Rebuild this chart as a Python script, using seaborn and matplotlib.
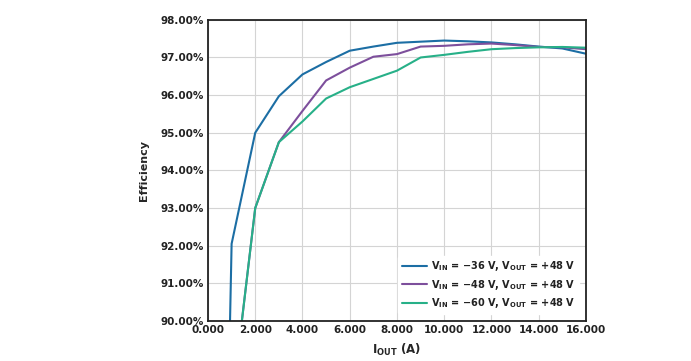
import numpy as np
import pandas as pd
import matplotlib
matplotlib.use("Agg")
import matplotlib.pyplot as plt
import seaborn as sns
from matplotlib.ticker import FuncFormatter

# Efficiency (%) vs output current (A)
iout_36 = [0.9, 1.0, 2.0, 3.0, 4.0, 5.0, 6.0, 7.0, 8.0, 9.0, 10.0, 11.0, 12.0, 13.0, 14.0, 15.0, 16.0]
eff_36 = [89.0, 92.05, 95.0, 95.97, 96.55, 96.88, 97.18, 97.29, 97.39, 97.42, 97.45, 97.43, 97.40, 97.35, 97.29, 97.24, 97.10]

iout_48 = [1.0, 2.0, 3.0, 4.0, 5.0, 6.0, 7.0, 8.0, 9.0, 10.0, 11.0, 12.0, 13.0, 14.0, 15.0, 16.0]
eff_48 = [87.7, 93.0, 94.75, 95.58, 96.39, 96.73, 97.02, 97.09, 97.29, 97.31, 97.35, 97.37, 97.33, 97.28, 97.27, 97.22]

iout_60 = [1.0, 2.0, 3.0, 4.0, 5.0, 6.0, 7.0, 8.0, 9.0, 10.0, 11.0, 12.0, 13.0, 14.0, 15.0, 16.0]
eff_60 = [87.7, 93.0, 94.75, 95.30, 95.91, 96.21, 96.43, 96.65, 97.0, 97.07, 97.15, 97.22, 97.25, 97.27, 97.28, 97.26]

labels = [
    r"$\mathbf{V_{IN}}$ = −36 V, $\mathbf{V_{OUT}}$ = +48 V",
    r"$\mathbf{V_{IN}}$ = −48 V, $\mathbf{V_{OUT}}$ = +48 V",
    r"$\mathbf{V_{IN}}$ = −60 V, $\mathbf{V_{OUT}}$ = +48 V",
]
colors = ["#1c6ea4", "#7d4f9c", "#27b088"]

df = pd.concat([
    pd.DataFrame({"iout": iout_36, "eff": eff_36, "cond": labels[0]}),
    pd.DataFrame({"iout": iout_48, "eff": eff_48, "cond": labels[1]}),
    pd.DataFrame({"iout": iout_60, "eff": eff_60, "cond": labels[2]}),
])

sns.set_theme(style="whitegrid")
plt.rcParams["font.family"] = ["DejaVu Sans"]

fig = plt.figure(figsize=(6.91, 3.61), dpi=100)
ax = fig.add_axes([0.301, 0.111, 0.547, 0.834])

sns.lineplot(data=df, x="iout", y="eff", hue="cond", palette=colors,
             hue_order=labels, linewidth=1.5, ax=ax, sort=False)

ax.set_xlim(0, 16)
ax.set_ylim(90, 98)
ax.set_xticks(np.arange(0, 17, 2))
ax.set_yticks(np.arange(90, 99, 1))
ax.xaxis.set_major_formatter(FuncFormatter(lambda v, p: f"{v:.3f}"))
ax.yaxis.set_major_formatter(FuncFormatter(lambda v, p: f"{v:.2f}%"))
for lbl in ax.get_xticklabels() + ax.get_yticklabels():
    lbl.set_fontweight("bold")
    lbl.set_fontsize(7.5)
    lbl.set_color("#222222")
ax.tick_params(axis="both", length=0, pad=3)

ax.grid(True, color="#d4d4d4", linewidth=0.8)
for s in ax.spines.values():
    s.set_color("#222222")
    s.set_linewidth(1.3)

ax.set_xlabel(r"$\mathbf{I_{OUT}}$ (A)", fontsize=8.5, fontweight="bold", labelpad=5)
ax.set_ylabel("Efficiency", fontsize=8, fontweight="bold", labelpad=8)

leg = ax.legend(loc="lower right", fontsize=7, frameon=True, handlelength=2.6,
                borderaxespad=0.7, labelspacing=0.45, handletextpad=0.4)
leg.get_frame().set_facecolor("white")
leg.get_frame().set_edgecolor("white")
leg.get_frame().set_alpha(1)
for t in leg.get_texts():
    t.set_fontweight("bold")
    t.set_color("#222222")

fig.savefig("out.png", dpi=100)
